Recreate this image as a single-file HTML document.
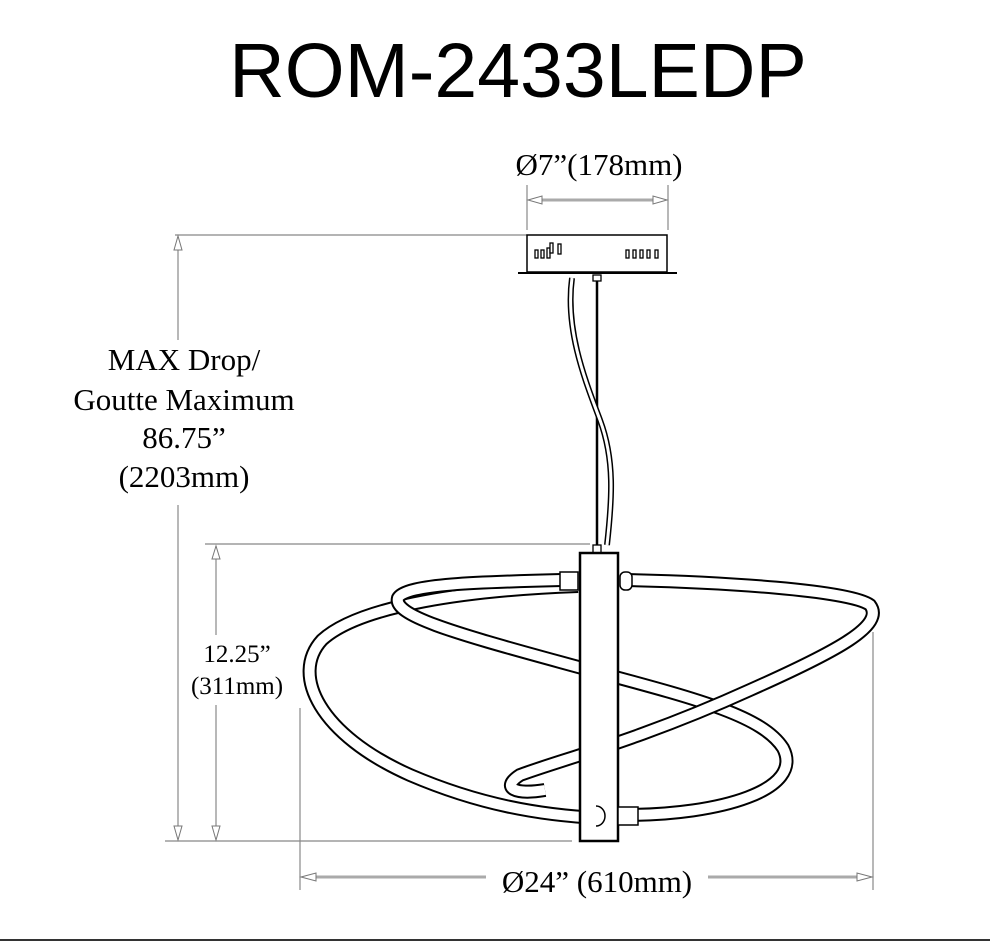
<!DOCTYPE html>
<html><head><meta charset="utf-8"><style>
html,body{margin:0;padding:0;background:#fff;}
svg{display:block;}
</style></head><body>
<svg width="990" height="942" viewBox="0 0 990 942" xmlns="http://www.w3.org/2000/svg">
<rect width="990" height="942" fill="#fff"/>
<text x="518" y="97" font-family="Liberation Sans, sans-serif" font-size="77" text-anchor="middle" fill="#000">ROM-2433LEDP</text>
<g font-family="Liberation Serif, serif" fill="#000" text-anchor="middle">
<text x="599" y="175" font-size="31">Ø7”(178mm)</text>
<text x="184" y="370" font-size="31">MAX Drop/</text>
<text x="184" y="410" font-size="31">Goutte Maximum</text>
<text x="184" y="448" font-size="31">86.75”</text>
<text x="184" y="487" font-size="31">(2203mm)</text>
<text x="237" y="662" font-size="25">12.25”</text>
<text x="237" y="694" font-size="25">(311mm)</text>
<text x="597" y="892" font-size="31">Ø24” (610mm)</text>
</g>
<g stroke="#888" stroke-width="1.2" fill="none">
<line x1="527" y1="185" x2="527" y2="230"/>
<line x1="668" y1="185" x2="668" y2="230"/>
<line x1="175" y1="235" x2="527" y2="235"/>
<line x1="178" y1="237" x2="178" y2="340"/>
<line x1="178" y1="505" x2="178" y2="838"/>
<line x1="205" y1="544" x2="590" y2="544"/>
<line x1="216" y1="546" x2="216" y2="635"/>
<line x1="216" y1="705" x2="216" y2="838"/>
<line x1="165" y1="841" x2="572" y2="841"/>
<line x1="300" y1="708" x2="300" y2="890"/>
<line x1="873" y1="632" x2="873" y2="890"/>
</g>
<g stroke="#aaa" stroke-width="3">
<line x1="540" y1="200" x2="655" y2="200"/>
<line x1="315" y1="877" x2="486" y2="877"/>
<line x1="708" y1="877" x2="860" y2="877"/>
</g>
<g fill="#fff" stroke="#777" stroke-width="1">
<polygon points="528,200 542,196 542,204"/>
<polygon points="667,200 653,196 653,204"/>
<polygon points="301,877 316,873 316,881"/>
<polygon points="872,877 857,873 857,881"/>
<polygon points="178,236 174,250 182,250"/>
<polygon points="178,840 174,826 182,826"/>
<polygon points="216,546 212,559 220,559"/>
<polygon points="216,840 212,826 220,826"/>
</g>
<line x1="0" y1="940" x2="990" y2="940" stroke="#333" stroke-width="2"/>
<rect x="527" y="235" width="140" height="37" fill="#fff" stroke="#000" stroke-width="1.5"/>
<line x1="518" y1="273" x2="677" y2="273" stroke="#000" stroke-width="2"/>
<g fill="#fff" stroke="#000" stroke-width="1.3">
<rect x="535" y="250" width="3" height="8"/><rect x="541" y="250" width="3" height="8"/><rect x="547" y="248" width="3" height="10"/><rect x="550" y="243" width="3" height="10"/><rect x="558" y="244" width="3" height="10"/>
<rect x="626" y="250" width="3" height="8"/><rect x="633" y="250" width="3" height="8"/><rect x="640" y="250" width="3" height="8"/><rect x="647" y="250" width="3" height="8"/><rect x="655" y="250" width="3" height="8"/>
<rect x="593" y="275" width="8" height="6"/>
</g>
<line x1="597" y1="281" x2="597" y2="545" stroke="#000" stroke-width="2.5"/>
<path d="M572,278 C565,330 585,380 600,420 C615,460 612,500 607,545" fill="none" stroke="#000" stroke-width="6"/>
<path d="M572,278 C565,330 585,380 600,420 C615,460 612,500 607,545" fill="none" stroke="#fff" stroke-width="3"/>
<g fill="none" stroke-linecap="butt">
<path d="M578,586 C470,590 360,605 322,640 C290,675 320,735 410,775 C480,805 540,815 598,818" stroke="#000" stroke-width="14"/>
<path d="M578,586 C470,590 360,605 322,640 C290,675 320,735 410,775 C480,805 540,815 598,818" stroke="#fff" stroke-width="10"/>
<path d="M562,580 C480,582 405,584 398,598 C393,615 450,632 560,662 C680,695 760,712 783,748 C805,790 720,815 625,815" stroke="#000" stroke-width="14"/>
<path d="M562,580 C480,582 405,584 398,598 C393,615 450,632 560,662 C680,695 760,712 783,748 C805,790 720,815 625,815" stroke="#fff" stroke-width="10"/>
<path d="M625,580 C720,582 850,590 870,605 C885,625 840,650 750,690 C640,740 560,760 520,775 C500,788 515,795 545,790" stroke="#000" stroke-width="14"/>
<path d="M625,580 C720,582 850,590 870,605 C885,625 840,650 750,690 C640,740 560,760 520,775 C500,788 515,795 545,790" stroke="#fff" stroke-width="10"/>
</g>
<rect x="593" y="545" width="8" height="8" fill="#fff" stroke="#000" stroke-width="1.3"/>
<rect x="580" y="553" width="38" height="288" fill="#fff" stroke="#000" stroke-width="2.5"/>
<g fill="#fff" stroke="#000" stroke-width="1.5">
<rect x="560" y="572" width="18" height="18"/>
<rect x="620" y="572" width="12" height="18" rx="5"/>
<rect x="618" y="807" width="20" height="18"/>
<path d="M596,806 a9,10 0 0 1 0,20" fill="none"/>
</g>
</svg>
</body></html>
